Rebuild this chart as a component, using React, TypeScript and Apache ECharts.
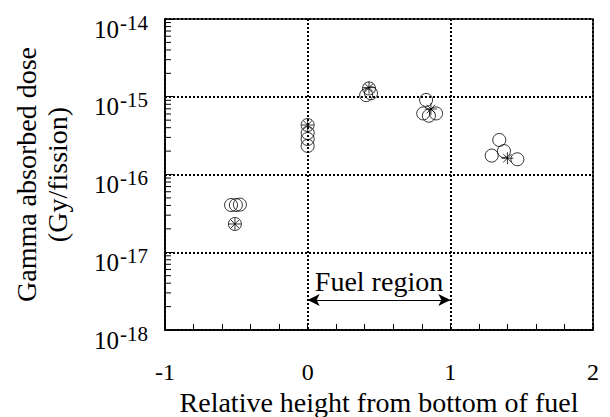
import React, { useEffect, useRef } from "react";
import * as echarts from "echarts";

const FONT = "Liberation Serif";

// circles (x, dose)
const circleX = [-0.537, -0.503, -0.475, -0.51, 0, 0, 0, 0, 0.43, 0.444, 0.41, 0.83, 0.81, 0.85, 0.9, 1.343, 1.29, 1.376, 1.47];
const circleY = [4.05e-17, 4.05e-17, 4.1e-17, 2.31e-17, 4.33e-16, 3.42e-16, 2.86e-16, 2.33e-16, 1.28e-15, 1.11e-15, 1.05e-15, 9.1e-16, 6.1e-16, 5.7e-16, 6.1e-16, 2.78e-16, 1.75e-16, 2.0e-16, 1.57e-16];
// asterisks (x, dose)
const starX = [-0.51, 0, 0.43, 0.864, 1.4];
const starY = [2.31e-17, 4.33e-16, 1.31e-15, 6.96e-16, 1.62e-16];

const xTicks = [-1, 0, 1, 2];
const yDecades = [-18, -17, -16, -15, -14];
const fuelRegion = [0, 1];
const fuelArrowY = 2.43e-18;
const fuelLabel = "Fuel region";

const minorY: number[] = [];
for (let d = yDecades[0]; d < yDecades[yDecades.length - 1]; d++) {
  for (let k = 2; k <= 9; k++) minorY.push(k * Math.pow(10, d));
}

const STAR = "path://M0 -10 L0 10 M-10 0 L10 0 M-7 -7 L7 7 M-7 7 L7 -7";

export default function App() {
  const ref = useRef<HTMLDivElement>(null);
  useEffect(() => {
    if (!ref.current) return;
    const chart = echarts.init(ref.current, null, { renderer: "svg" });
    const yMin = Math.pow(10, yDecades[0]);
    const yMax = Math.pow(10, yDecades[yDecades.length - 1]);
    chart.setOption({
      animation: false,
      backgroundColor: "#fff",
      grid: {
        left: 165,
        right: 17,
        top: 19,
        bottom: 87,
        containLabel: false,
        outerBoundsMode: "none",
        show: true,
        borderColor: "#000",
        borderWidth: 1.5,
      },
      xAxis: {
        type: "value",
        min: xTicks[0],
        max: xTicks[xTicks.length - 1],
        interval: 1,
        axisLine: { show: true, onZero: false, lineStyle: { color: "#000", width: 1.5 } },
        axisTick: { show: true, inside: true, length: 7, lineStyle: { color: "#000" } },
        minorTick: { show: true, splitNumber: 5, length: 6, lineStyle: { color: "#000" } },
        splitLine: { show: true, lineStyle: { color: "#000", width: 2, type: [2, 2] } },
        axisLabel: { color: "#000", fontSize: 24, fontFamily: FONT, margin: 30 },
        name: "Relative height from bottom of fuel",
        nameLocation: "middle",
        nameGap: 49,
        nameTextStyle: { color: "#000", fontSize: 28, fontFamily: FONT },
      },
      yAxis: [
        {
          type: "log",
          logBase: 10,
          min: yMin,
          max: yMax,
          position: "left",
          axisLine: { show: true, onZero: false, lineStyle: { color: "#000", width: 1.5 } },
          axisTick: { show: true, inside: true, length: 8, lineStyle: { color: "#000" } },
          splitLine: { show: true, lineStyle: { color: "#000", width: 2, type: [2, 2] } },
          axisLabel: {
            color: "#000",
            fontSize: 25,
            fontFamily: FONT,
            margin: 46,
            verticalAlign: "top",
            lineHeight: 20,
            formatter: () => "10",
          },
          name: "Gamma absorbed dose\n(Gy/fission)",
          nameLocation: "middle",
          nameGap: 92,
          nameRotate: 90,
          nameTextStyle: { color: "#000", fontSize: 28, fontFamily: FONT, lineHeight: 31 },
        },
        {
          type: "log",
          logBase: 10,
          min: yMin,
          max: yMax,
          position: "left",
          axisLine: { show: false },
          axisTick: { show: false },
          splitLine: { show: false },
          axisLabel: {
            color: "#000",
            fontSize: 21,
            fontFamily: FONT,
            margin: 17,
            verticalAlign: "top",
            lineHeight: 7,
            formatter: (v: number) => `${Math.round(Math.log10(v))}`,
          },
        },
      ],
      series: [
        {
          type: "custom",
          silent: true,
          clip: false,
          data: minorY.map((v) => [xTicks[0], v]),
          renderItem: (_p: any, api: any) => {
            const pt = api.coord([api.value(0), api.value(1)]);
            return {
              type: "line",
              shape: { x1: pt[0], y1: pt[1], x2: pt[0] + 6, y2: pt[1] },
              style: { stroke: "#000", lineWidth: 1 },
            };
          },
          z: 5,
        },
        {
          type: "scatter",
          data: circleX.map((x, i) => [x, circleY[i]]),
          symbol: "circle",
          symbolSize: 13,
          itemStyle: { color: "rgba(0,0,0,0)", borderColor: "#000", borderWidth: 1 },
          markLine: {
            silent: true,
            symbol: ["arrow", "arrow"],
            symbolSize: [9, 12],
            lineStyle: { color: "#000", width: 1.2, type: "solid" },
            label: {
              show: true,
              position: "middle",
              formatter: fuelLabel,
              color: "#000",
              fontSize: 28,
              fontFamily: FONT,
              distance: 5,
            },
            data: [[{ coord: [fuelRegion[0], fuelArrowY] }, { coord: [fuelRegion[1], fuelArrowY] }]],
          },
        },
        {
          type: "scatter",
          data: starX.map((x, i) => [x, starY[i]]),
          symbol: STAR,
          symbolSize: 12,
          itemStyle: { color: "rgba(0,0,0,0)", borderColor: "#000", borderWidth: 1 },
        },
      ],
    });
    return () => chart.dispose();
  }, []);
  return <div ref={ref} style={{ width: 610, height: 417, position: "absolute", left: 0, top: 0 }} />;
}
